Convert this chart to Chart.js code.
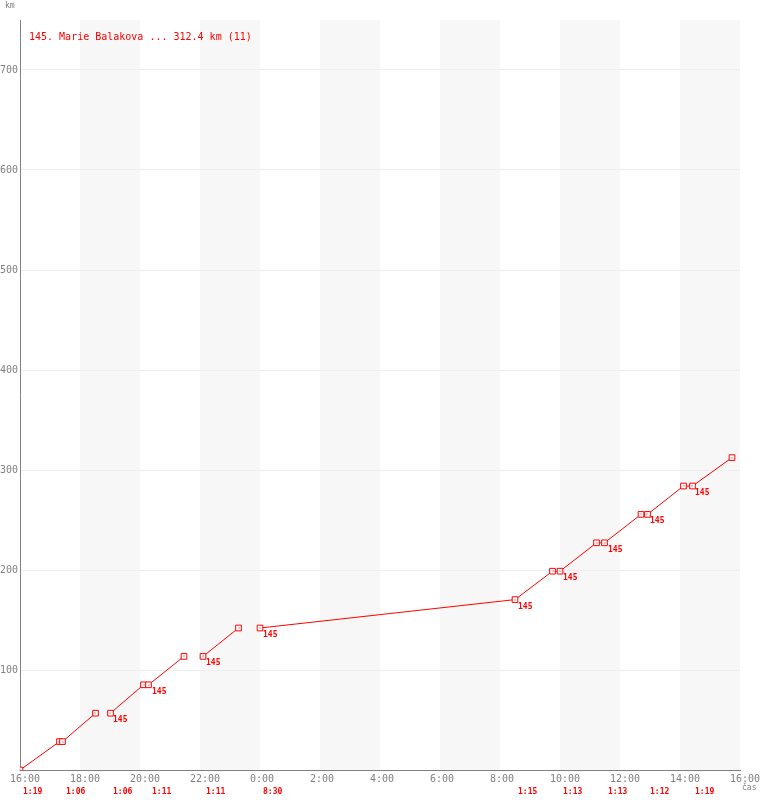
<!DOCTYPE html>
<html>
<head>
<meta charset="utf-8">
<script src="https://cdn.jsdelivr.net/npm/chart.js@4.4.1/dist/chart.umd.min.js"></script>
<style>
  html, body { margin: 0; padding: 0; background: #fff; }
  canvas { display: block; }
</style>
</head>
<body>
<canvas id="chart" width="760" height="800"></canvas>
<script>
// race starts at 16:00, x axis is hours since start
const START_HOUR = 16;

// null = line break (rider off the course)
const times = ['16:00', '17:19', '17:25', '18:31', null, '19:01', '20:07', '20:17', '21:28', null,
  '22:06', '23:17', null, '0:00', '8:30', '9:45', '10:00', '11:13', '11:29', '12:42', '12:55',
  '14:07', '14:25', '15:44'];
const km = [0, 28.4, 28.4, 56.8, null, 56.8, 85.2, 85.2, 113.6, null,
  113.6, 142, null, 142, 170.4, 198.8, 198.8, 227.2, 227.2, 255.6, 255.6,
  284, 284, 312.4];
const tags = ['', '', '', '', '', '145', '', '145', '', '',
  '145', '', '', '145', '145', '', '145', '', '145', '', '145',
  '', '145', ''];

const lapStarts = ['16:00', '17:25', '19:01', '20:17', '22:06', '0:00', '8:30', '10:00', '11:29', '12:55', '14:25'];
const lapTimes = ['1:19', '1:06', '1:06', '1:11', '1:11', '8:30', '1:15', '1:13', '1:13', '1:12', '1:19'];

const title = '145. Marie Balakova ... 312.4 km (11)';

const RED = '#ff0000';
const GREY = '#808080';
const MONO = '"DejaVu Sans Mono", "Liberation Mono", monospace';

function hours(t) {
  const [h, m] = t.split(':').map(Number);
  let v = h + m / 60 - START_HOUR;
  if (v < 0) v += 24;
  return v;
}

const points = times.map((t, i) => ({
  x: hours(t === null ? times[i - 1] : t),
  y: km[i]
}));

const overlay = {
  id: 'overlay',
  beforeDraw(chart) {
    const { ctx, chartArea: a, scales: { x } } = chart;
    ctx.save();
    ctx.fillStyle = '#f7f7f7';
    for (let h = 2; h < 24; h += 4) {
      const x0 = Math.round(x.getPixelForValue(h));
      const x1 = Math.round(x.getPixelForValue(h + 2));
      ctx.fillRect(x0, a.top, x1 - x0, a.bottom - a.top);
    }
    ctx.restore();
  },
  afterDraw(chart) {
    const { ctx, chartArea: a, scales: { x } } = chart;
    const meta = chart.getDatasetMeta(0);
    ctx.save();

    // centre dots of the square markers
    ctx.fillStyle = RED;
    meta.data.forEach((p, i) => {
      if (km[i] === null) return;
      ctx.fillRect(Math.round(p.x) - 0.5, Math.round(p.y) - 0.5, 1, 1);
    });

    ctx.textBaseline = 'top';
    ctx.textAlign = 'left';

    // rider number next to points
    ctx.font = 'bold 8px ' + MONO;
    meta.data.forEach((p, i) => {
      if (tags[i]) ctx.fillText(tags[i], Math.round(p.x) + 3, Math.round(p.y) + 3);
    });

    // lap times under the axis
    lapStarts.forEach((t, i) => {
      ctx.fillText(lapTimes[i], Math.round(x.getPixelForValue(hours(t))) + 3, a.bottom + 18);
    });

    ctx.font = '10px ' + MONO;
    ctx.fillText(title, 29, 32);

    ctx.fillStyle = GREY;
    ctx.font = '8px ' + MONO;
    ctx.fillText('km', 5, 2);
    ctx.fillText('čas', 742, 784);
    ctx.restore();
  }
};

new Chart(document.getElementById('chart'), {
  type: 'line',
  data: {
    datasets: [{
      data: points,
      borderColor: RED,
      borderWidth: 1,
      pointStyle: 'rect',
      pointRadius: 4,
      pointBorderWidth: 1,
      pointBorderColor: RED,
      pointBackgroundColor: '#fff',
      spanGaps: false,
      tension: 0
    }]
  },
  options: {
    responsive: false,
    animation: false,
    devicePixelRatio: 1,
    layout: { padding: { top: 20, right: 20, left: 0, bottom: 0 } },
    plugins: {
      legend: { display: false },
      title: { display: false },
      tooltip: { enabled: false }
    },
    scales: {
      x: {
        type: 'linear',
        min: 0,
        max: 24,
        afterFit: scale => {
          scale.height = 30;
          scale.paddingLeft = 0;
          scale.paddingRight = 0;
        },
        grid: { display: false, drawTicks: false },
        border: { color: GREY, width: 1 },
        ticks: {
          stepSize: 2,
          autoSkip: false,
          maxRotation: 0,
          align: 'start',
          labelOffset: -10,
          padding: 3,
          color: GREY,
          font: { family: MONO, size: 10 },
          callback: v => ((START_HOUR + v) % 24) + ':00'
        }
      },
      y: {
        min: 0,
        max: 750,
        afterFit: scale => {
          scale.width = 20;
          scale.paddingTop = 0;
          scale.paddingBottom = 0;
        },
        grid: {
          drawTicks: false,
          color: ctx => (ctx.tick && ctx.tick.value % 100 === 0 && ctx.tick.value > 0) ? '#eeeeee' : 'rgba(0,0,0,0)'
        },
        border: { color: GREY, width: 1 },
        ticks: {
          stepSize: 100,
          padding: 2,
          color: GREY,
          font: { family: MONO, size: 10 },
          callback: v => (v % 100 === 0 && v > 0) ? v : ''
        }
      }
    }
  },
  plugins: [overlay]
});
</script>
</body>
</html>
